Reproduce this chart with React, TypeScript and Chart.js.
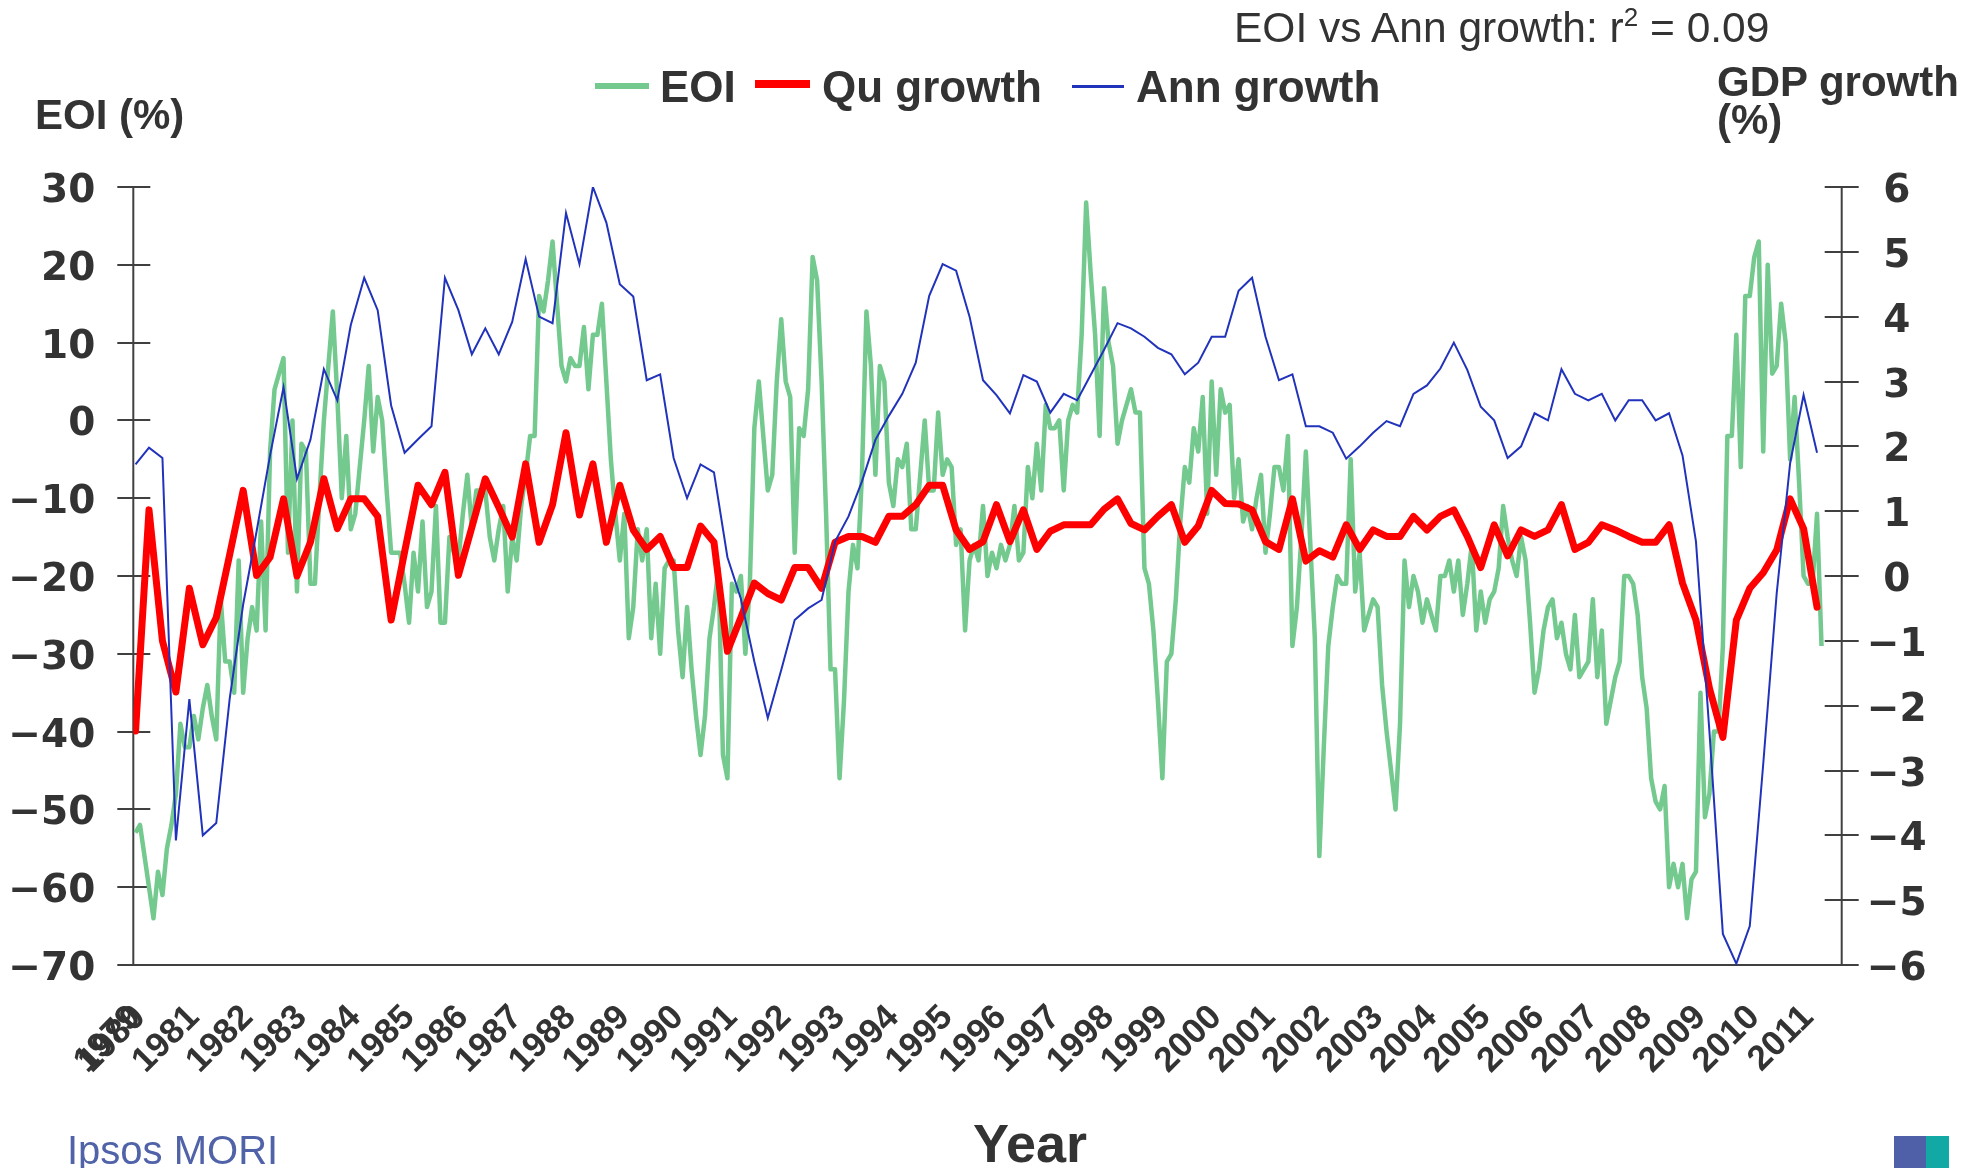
import React, { useEffect, useRef } from "react";
import { Chart, registerables } from "chart.js";

Chart.register(...registerables);

// Monthly Economic Optimism Index (%), first value = Dec 1979
const EOI: number[] = [
  -53, -52, -56, -60, -64, -58, -61, -55, -52, -48,
  -39, -42, -42, -38, -41, -37, -34, -38, -41, -23,
  -31, -31, -35, -18, -35, -28, -24, -27, -13, -27,
  -4, 4, 6, 8, -17, 0, -22, -3, -4, -21,
  -21, -10, 0, 7, 14, 3, -10, -2, -14, -12,
  -6, 0, 7, -4, 3, 0, -9, -17, -17, -17,
  -21, -26, -17, -22, -13, -24, -22, -11, -26, -26,
  -15, -17, -18, -12, -7, -14, -9, -9, -9, -15,
  -18, -14, -11, -22, -15, -18, -11, -7, -2, -2,
  16, 14, 18, 23, 15, 7, 5, 8, 7, 7,
  12, 4, 11, 11, 15, 5, -5, -12, -18, -12,
  -28, -24, -14, -18, -14, -28, -21, -30, -19, -18,
  -18, -27, -33, -24, -32, -38, -43, -38, -28, -24,
  -19, -43, -46, -21, -22, -20, -30, -21, -1, 5,
  -2, -9, -7, 5, 13, 5, 3, -17, -1, -2,
  4, 21, 18, 5, -12, -32, -32, -46, -36, -22,
  -16, -19, -7, 14, 7, -7, 7, 5, -8, -11,
  -5, -6, -3, -14, -14, -7, 0, -9, -9, 1,
  -7, -5, -6, -16, -14, -27, -18, -16, -18, -11,
  -20, -17, -19, -16, -18, -16, -11, -18, -17, -6,
  -10, -3, -9, 2, -1, -1, 0, -9, 0, 2,
  1, 11, 28, 19, 11, -2, 17, 10, 7, -3,
  0, 2, 4, 1, 1, -19, -21, -27, -36, -46,
  -31, -30, -23, -13, -6, -8, -1, -4, 3, -12,
  5, -7, 4, 1, 2, -10, -5, -13, -11, -14,
  -10, -7, -17, -12, -6, -6, -9, -2, -29, -24,
  -15, -4, -16, -28, -56, -42, -29, -24, -20, -21,
  -21, -5, -22, -17, -27, -25, -23, -24, -34, -40,
  -45, -50, -39, -18, -24, -20, -22, -26, -23, -25,
  -27, -20, -20, -18, -22, -18, -25, -21, -16, -27,
  -22, -26, -23, -22, -19, -11, -15, -18, -20, -15,
  -18, -26, -35, -32, -27, -24, -23, -28, -26, -30,
  -32, -25, -33, -32, -31, -23, -33, -27, -39, -36,
  -33, -31, -20, -20, -21, -25, -33, -37, -46, -49,
  -50, -47, -60, -57, -60, -57, -64, -59, -58, -35,
  -51, -48, -40, -40, -29, -2, -2, 11, -6, 16,
  16, 21, 23, -4, 20, 6, 7, 15, 10, -5,
  3, -8, -20, -21, -21, -12, -29,
];

// Quarterly GDP growth (%), one value every third month from Dec 1979
const QU_GROWTH: number[] = [
  -2.39, 1.02, -1.0, -1.79, -0.19, -1.06, -0.64, 0.33, 1.32, 0.01,
  0.29, 1.19, 0.0, 0.52, 1.5, 0.73, 1.19, 1.19, 0.92, -0.68,
  0.37, 1.4, 1.1, 1.6, 0.01, 0.75, 1.5, 1.06, 0.6, 1.73,
  0.52, 1.1, 2.21, 0.94, 1.73, 0.52, 1.4, 0.71, 0.41, 0.61,
  0.13, 0.13, 0.77, 0.52, -1.16, -0.64, -0.11, -0.27, -0.37, 0.13,
  0.13, -0.19, 0.52, 0.61, 0.61, 0.52, 0.92, 0.92, 1.1, 1.4,
  1.4, 0.71, 0.41, 0.53, 1.1, 0.53, 1.02, 0.41, 0.69, 0.79,
  0.79, 0.79, 1.03, 1.19, 0.81, 0.71, 0.92, 1.1, 0.52, 0.77,
  1.32, 1.12, 1.11, 1.02, 0.53, 0.41, 1.19, 0.23, 0.39, 0.29,
  0.79, 0.41, 0.71, 0.61, 0.61, 0.92, 0.71, 0.92, 1.02, 0.61,
  0.13, 0.79, 0.31, 0.71, 0.61, 0.71, 1.1, 0.41, 0.52, 0.79,
  0.71, 0.61, 0.52, 0.52, 0.79, -0.11, -0.68, -1.73, -2.49, -0.68,
  -0.19, 0.05, 0.4, 1.19, 0.73, -0.48,
];

// Annual GDP growth (%), same quarterly dates
const ANN_GROWTH: number[] = [
  1.72, 1.98, 1.82, -4.08, -1.9, -4.0, -3.81, -1.89, -0.44, 0.69,
  1.86, 2.91, 1.5, 2.1, 3.19, 2.71, 3.87, 4.6, 4.1, 2.63,
  1.9, 2.11, 2.31, 4.6, 4.1, 3.42, 3.82, 3.42, 3.92, 4.89,
  4.0, 3.9, 5.6, 4.81, 6.0, 5.45, 4.5, 4.31, 3.02, 3.11,
  1.82, 1.2, 1.72, 1.6, 0.29, -0.35, -1.32, -2.19, -1.45, -0.68,
  -0.5, -0.37, 0.53, 0.92, 1.46, 2.1, 2.47, 2.81, 3.29, 4.32,
  4.81, 4.71, 4.0, 3.02, 2.79, 2.51, 3.1, 3.0, 2.52, 2.81,
  2.71, 3.1, 3.49, 3.9, 3.82, 3.69, 3.52, 3.42, 3.11, 3.29,
  3.69, 3.69, 4.4, 4.6, 3.69, 3.02, 3.11, 2.31, 2.31, 2.21,
  1.81, 2.0, 2.21, 2.39, 2.31, 2.81, 2.94, 3.2, 3.6, 3.18,
  2.61, 2.4, 1.82, 2.0, 2.51, 2.4, 3.19, 2.81, 2.71, 2.81,
  2.4, 2.71, 2.71, 2.4, 2.51, 1.86, 0.53, -2.4, -5.52, -5.98,
  -5.4, -2.9, -0.27, 1.74, 2.79, 1.9,
];

// x-axis year labels (first label sits on the first month, the others on each January)
const YEAR_LABELS: string[] = [
  "1979", "1980", "1981", "1982", "1983", "1984", "1985", "1986", "1987", "1988",
  "1989", "1990", "1991", "1992", "1993", "1994", "1995", "1996", "1997", "1998",
  "1999", "2000", "2001", "2002", "2003", "2004", "2005", "2006", "2007", "2008",
  "2009", "2010", "2011",
];

const EOI_TICKS: number[] = [30, 20, 10, 0, -10, -20, -30, -40, -50, -60, -70];
const GDP_TICKS: number[] = [6, 5, 4, 3, 2, 1, 0, -1, -2, -3, -4, -5, -6];

const W = 1984;
const H = 1168;
const PLOT_LEFT = 133.3;
const PLOT_RIGHT = 1841.7;
const PLOT_TOP = 187;
const PLOT_BOTTOM = 965;

const GREEN = "#73c98e";
const RED = "#ff0000";
const BLUE = "#2233bb";
const AXIS = "#404040";
const TEXT = "#333333";

// month index (0 = first month) for a label
function labelMonth(label: string, idx: number): number {
  if (idx === 0) return 0;
  return 1 + (parseInt(label, 10) - 1980) * 12;
}
const TICK_POS: number[] = YEAR_LABELS.map((l, i) => labelMonth(l, i));

const fmt = (v: number) => (v < 0 ? "\u2212" + Math.abs(v) : String(v));

const axesPlugin = {
  id: "axesDeco",
  beforeDatasetsDraw(chart: any) {
    const { ctx, chartArea, scales } = chart;
    const { left, right, top, bottom } = chartArea;
    ctx.save();
    ctx.strokeStyle = AXIS;
    ctx.lineWidth = 2;
    ctx.lineCap = "butt";
    const line = (x1: number, y1: number, x2: number, y2: number) => {
      ctx.beginPath();
      ctx.moveTo(x1, y1);
      ctx.lineTo(x2, y2);
      ctx.stroke();
    };
    line(left, top, left, bottom);
    line(right, top, right, bottom);
    line(left, bottom, right, bottom);

    ctx.fillStyle = TEXT;
    ctx.font = "bold 39px 'DejaVu Sans', sans-serif";
    ctx.textBaseline = "alphabetic";
    EOI_TICKS.forEach((v) => {
      const y = Math.round(scales.y.getPixelForValue(v));
      line(left - 16, y, left + 17, y);
      ctx.textAlign = "right";
      ctx.fillText(fmt(v), left - 38, y + 15);
    });
    GDP_TICKS.forEach((v) => {
      const y = Math.round(scales.y2.getPixelForValue(v));
      line(right - 17, y, right + 17, y);
      ctx.textAlign = "center";
      ctx.fillText(fmt(v), right + 55, y + 15);
    });
    ctx.restore();
  },
};

export default function App() {
  const ref = useRef<HTMLCanvasElement>(null);

  useEffect(() => {
    const canvas = ref.current;
    if (!canvas) return;
    const chart = new Chart(canvas, {
      type: "line",
      data: {
        datasets: [
          {
            label: "Ann growth",
            data: ANN_GROWTH.map((v, k) => ({ x: k * 3, y: v })),
            yAxisID: "y2",
            borderColor: BLUE,
            borderWidth: 2,
            pointRadius: 0,
            tension: 0,
            order: 0,
          },
          {
            label: "Qu growth",
            data: QU_GROWTH.map((v, k) => ({ x: k * 3, y: v })),
            yAxisID: "y2",
            borderColor: RED,
            borderWidth: 7,
            borderJoinStyle: "round",
            borderCapStyle: "round",
            pointRadius: 0,
            tension: 0,
            order: 1,
          },
          {
            label: "EOI",
            data: EOI.map((v, i) => ({ x: i, y: v })),
            yAxisID: "y",
            borderColor: GREEN,
            borderWidth: 4.5,
            borderJoinStyle: "round",
            pointRadius: 0,
            tension: 0,
            order: 2,
          },
        ],
      },
      options: {
        responsive: false,
        animation: false,
        events: [],
        layout: { padding: { top: PLOT_TOP, left: 0, right: 0, bottom: 0 } },
        plugins: {
          legend: { display: false },
          tooltip: { enabled: false },
          title: { display: false },
        },
        scales: {
          x: {
            type: "linear",
            min: -0.5,
            max: 380.5,
            grid: { display: false, drawTicks: false },
            border: { display: false },
            afterBuildTicks: (scale: any) => {
              scale.ticks = TICK_POS.map((v) => ({ value: v }));
            },
            afterFit: (scale: any) => {
              scale.height = H - PLOT_BOTTOM;
            },
            ticks: {
              autoSkip: false,
              minRotation: 45,
              maxRotation: 45,
              padding: 32,
              color: TEXT,
              font: { family: "'Liberation Sans', Arial, sans-serif", size: 35, weight: "bold" },
              callback: (value: any) => {
                const idx = TICK_POS.indexOf(Number(value));
                return idx >= 0 ? YEAR_LABELS[idx] : "";
              },
            },
          },
          y: {
            type: "linear",
            position: "left",
            min: -70,
            max: 30,
            grid: { display: false, drawTicks: false },
            border: { display: false },
            afterFit: (scale: any) => {
              scale.width = PLOT_LEFT;
            },
            ticks: { display: false, stepSize: 10 },
          },
          y2: {
            type: "linear",
            position: "right",
            min: -6,
            max: 6,
            grid: { display: false, drawTicks: false },
            border: { display: false },
            afterFit: (scale: any) => {
              scale.width = W - PLOT_RIGHT;
            },
            ticks: { display: false, stepSize: 1 },
          },
        },
      },
      plugins: [axesPlugin],
    } as any);
    return () => chart.destroy();
  }, []);

  const lib = "'Liberation Sans', Arial, sans-serif";
  const txt = (extra: React.CSSProperties): React.CSSProperties => ({
    position: "absolute",
    whiteSpace: "nowrap",
    color: TEXT,
    fontFamily: lib,
    margin: 0,
    ...extra,
  });

  return (
    <div
      style={{
        position: "fixed",
        left: 0,
        top: 0,
        width: W,
        height: H,
        background: "#ffffff",
        overflow: "hidden",
      }}
    >
      <canvas
        ref={ref}
        width={W}
        height={H}
        style={{ position: "absolute", left: 0, top: 0, width: W, height: H }}
      />

      {/* title */}
      <div style={txt({ left: 1234, top: 7, fontSize: 42.5, lineHeight: "42px" })}>
        EOI vs Ann growth: r
        <span style={{ fontSize: 26, position: "relative", top: -16 }}>2</span> = 0.09
      </div>

      {/* legend */}
      <div style={{ position: "absolute", left: 595, top: 83, width: 54, height: 6, background: GREEN }} />
      <div style={txt({ left: 660, top: 65, fontSize: 44, lineHeight: "44px", fontWeight: "bold" })}>EOI</div>
      <div style={{ position: "absolute", left: 755, top: 80, width: 55, height: 8, background: RED }} />
      <div style={txt({ left: 822, top: 65, fontSize: 44, lineHeight: "44px", fontWeight: "bold" })}>Qu growth</div>
      <div style={{ position: "absolute", left: 1072, top: 85, width: 52, height: 3, background: BLUE }} />
      <div style={txt({ left: 1136, top: 65, fontSize: 44, lineHeight: "44px", fontWeight: "bold" })}>Ann growth</div>

      {/* axis titles */}
      <div style={txt({ left: 35, top: 94, fontSize: 42, lineHeight: "42px", fontWeight: "bold" })}>EOI (%)</div>
      <div style={txt({ left: 1717, top: 61, fontSize: 42, lineHeight: "42px", fontWeight: "bold" })}>GDP growth</div>
      <div style={txt({ left: 1717, top: 99, fontSize: 42, lineHeight: "42px", fontWeight: "bold" })}>(%)</div>
      <div
        style={txt({
          left: 930,
          width: 200,
          textAlign: "center",
          top: 1116,
          fontSize: 54,
          lineHeight: "54px",
          fontWeight: "bold",
        })}
      >
        Year
      </div>

      {/* footer */}
      <div style={txt({ left: 67, top: 1130, fontSize: 40, lineHeight: "40px", color: "#5062a8" })}>Ipsos MORI</div>
      <div style={{ position: "absolute", left: 1894, top: 1136, width: 32, height: 32, background: "#4f5fa8" }} />
      <div style={{ position: "absolute", left: 1926, top: 1136, width: 23, height: 32, background: "#12a9a4" }} />
    </div>
  );
}
